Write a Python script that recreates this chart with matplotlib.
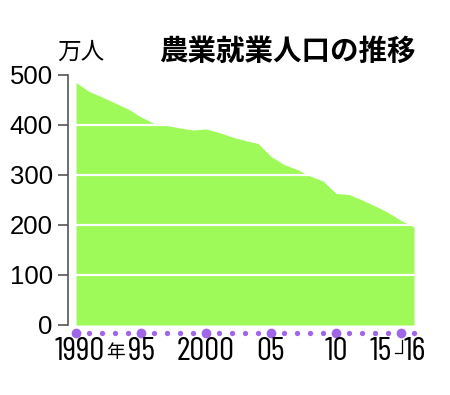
import matplotlib
matplotlib.use('Agg')
import matplotlib.pyplot as plt

# data (万人)
years = list(range(1990, 2017))
population = [485, 467, 456, 444, 432, 416, 403, 399, 394, 390,
              392, 385, 376, 369, 363, 337, 321, 311, 298, 288,
              263, 261, 250, 238, 225, 209, 196]
yticks = [0, 100, 200, 300, 400, 500]
xlabels = {1990: '1990', 1995: '95', 2000: '2000', 2005: '05', 2010: '10', 2015: '15', 2016: '16'}

cond = ['Barlow Condensed', 'Noto Sans CJK JP']
jp = 'Noto Sans CJK JP'

green = '#9efa58'
purple = '#a066e8'

fig = plt.figure(figsize=(4.5, 3.95), dpi=100)
ax = fig.add_axes([68 / 450, 70 / 395, (420.5 - 68) / 450, 250 / 395])
ax.set_xlim(1989.385, 2016.5)
ax.set_ylim(0, 500)

ax.fill_between(years, population, 0, color=green, lw=0, zorder=1)
for v in yticks[1:-1]:
    ax.axhline(v, color='white', lw=1.6, zorder=2)

for s in ['top', 'right', 'bottom']:
    ax.spines[s].set_visible(False)
ax.spines['left'].set_color('#555555')
ax.spines['left'].set_linewidth(1.2)
ax.set_xticks([])
ax.set_yticks(yticks)
ax.set_yticklabels([str(v) for v in yticks], fontfamily='Liberation Sans', fontsize=18.5)
ax.tick_params(axis='y', length=7, width=1.2, color='#555555', pad=4)

# purple year dots under the axis
for yr in years:
    big = yr % 5 == 0
    ax.plot(yr, -16, 'o', color=purple, ms=7 if big else 3.8, mew=0, clip_on=False, zorder=3)

# year labels (1990 and 15 are nudged like the original)
shift = {1990: 0.25, 1995: 0.05, 2015: -1.54, 2016: 0.04}
for yr, lab in xlabels.items():
    ax.text(yr + shift.get(yr, 0), -54, lab, ha='center', va='center', fontsize=24,
            family=cond, clip_on=False)
ax.text(1993.0, -55, '年', ha='center', va='center', fontsize=13.5, family=jp, clip_on=False)
ax.plot([2015.05, 2015.05, 2014.55], [-30, -56, -56], color='black', lw=0.9, clip_on=False)

fig.text(81 / 450, 1 - 52 / 395, '万人', ha='center', va='center', fontsize=17, family=jp)
fig.text(287 / 450, 1 - 52 / 395, '農業就業人口の推移', ha='center', va='center',
         fontsize=20.5, family=jp, fontweight='bold')

fig.savefig('out.png', dpi=100)
